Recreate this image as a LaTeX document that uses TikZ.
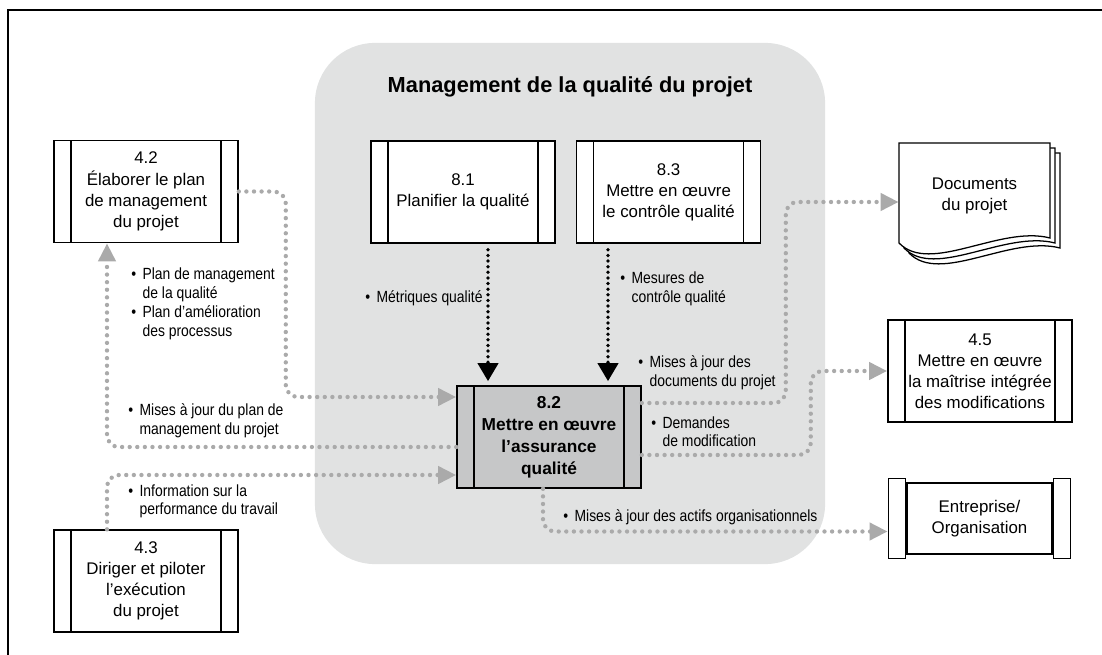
\documentclass[tikz,border=0pt]{standalone}
\usepackage{fontspec}
\setmainfont{Liberation Sans}
\newfontfamily\condfont[FakeStretch=0.86]{Liberation Sans}
\usetikzlibrary{arrows.meta, positioning, calc}
\definecolor{areagray}{RGB}{225,226,226}
\definecolor{coregray}{RGB}{198,199,200}
\definecolor{flowgray}{RGB}{170,170,170}
\newcommand{\bul}{\makebox[0.7em][l]{\textbullet}}
\newcommand{\cont}{\hspace*{0.7em}}

\begin{document}
\begin{tikzpicture}[x=0.025cm, y=-0.025cm,
    procbox/.style={rectangle, draw, line width=1.1pt, fill=white, minimum width=4.6cm, minimum height=2.55cm, inner sep=0pt, align=center, font=\fontsize{12}{15}\selectfont,
      path picture={\draw[line width=1.1pt] ([xshift=0.425cm]path picture bounding box.north west) -- ([xshift=0.425cm]path picture bounding box.south west)
        ([xshift=-0.425cm]path picture bounding box.north east) -- ([xshift=-0.425cm]path picture bounding box.south east);}},
    corebox/.style={procbox, fill=coregray, font=\bfseries\fontsize{12.3}{15.6}\selectfont},
    entbox/.style={rectangle, draw, line width=1.1pt, fill=white, minimum width=3.625cm, minimum height=1.775cm, inner sep=0pt, align=center, font=\fontsize{12}{15}\selectfont},
    endbar/.style={rectangle, draw, line width=1.1pt, fill=white, minimum width=0.425cm, minimum height=2cm, inner sep=0pt},
    area/.style={rectangle, fill=areagray, rounded corners=1.5cm, minimum width=12.75cm, minimum height=13.025cm},
    title/.style={font=\bfseries\fontsize{15.5}{18}\selectfont, inner sep=0pt},
    lbl/.style={anchor=north west, align=left, inner sep=0pt, font=\condfont\fontsize{11.5}{13.5}\selectfont},
    flow/.style={draw=flowgray, line width=3.1pt, line cap=round, dash pattern=on 0pt off 5.4pt, rounded corners=0.3cm, -{Triangle[length=0.45cm, width=0.42cm]}},
    pull/.style={draw=black, line width=2.7pt, line cap=round, dash pattern=on 0pt off 4pt, -{Triangle[length=0.45cm, width=0.5cm]}, shorten <=0.15cm, shorten >=0.1cm}]

    \useasboundingbox (0,0) rectangle (1102,655);
    \clip (0,0) rectangle (1102,655);

    % Process group
    \node [area] (qmgmt) at (570,303.5) {};
    \node [title, below=0.85cm of qmgmt.north] (qtitle) {Management de la qualité du projet};
    \draw [line width=1.6pt] (8,665) -- (8,10) -- (1110,10);

    % Processes
    \node [procbox] (pm) at (146,191.5) {4.2\\Élaborer le plan\\de management\\du projet};
    \node [procbox, below=7.15cm of pm] (exec) {4.3\\Diriger et piloter\\l’exécution\\du projet};
    \node [procbox] (plan) at (463,192) {8.1\\Planifier la qualité};
    \node [procbox, right=0.5cm of plan] (ctrl) {8.3\\Mettre en œuvre\\le contrôle qualité};
    \node [corebox] (qa) at (549,437) {8.2\\Mettre en œuvre\\l’assurance\\qualité};
    \node [procbox] (chg) at (980,371) {4.5\\Mettre en œuvre\\la maîtrise intégrée\\des modifications};

    % Enterprise
    \node [entbox] (ent) at (979.5,518.5) {Entreprise/\\Organisation};
    \node [endbar, anchor=east] (entL) at (ent.west) {};
    \node [endbar, anchor=west] (entR) at (ent.east) {};

    % Project documents
    \foreach \d in {10,5,0} {
      \draw [line width=0.9pt, fill=white, shift={(\d,\d)}] (899,143) -- (1050,143) -- (1050,238)
        .. controls (1000,225) and (930,275) .. (899,243) -- cycle;
    }
    \node [align=center, inner sep=0pt, minimum width=3.775cm, font=\fontsize{12}{15}\selectfont] (docs) at (974.5,196) {Documents\\du projet};

    % Flows
    \draw [flow] (pm.east) -- ++(47,0) |- ($(qa.west)+(0,-40)$);
    \draw [flow] ($(qa.west)+(0,10)$) -| ($(pm.south)+(-39,0)$);
    \draw [flow] ($(exec.north)+(-39,0)$) |- ($(qa.west)+(0,38)$);
    \draw [flow] ($(qa.east)+(0,-34)$) -- ++(144,0) |- ($(docs.west)+(0,6)$);
    \draw [flow] ($(qa.east)+(0,18)$) -- ++(169,0) |- (chg.west);
    \draw [flow] ($(qa.south)+(-6,0)$) |- ($(entL.west)+(0,13)$);

    \coordinate (in1) at ($(qa.north)+(-61,0)$);
    \coordinate (in2) at ($(qa.north)+(59,0)$);
    \draw [pull] (in1 |- plan.south) -- (in1);
    \draw [pull] (in2 |- ctrl.south) -- (in2);

    % Labels
    \node [lbl] (lplan) at (131,268) {\bul Plan de management\\\cont de la qualité\\\bul Plan d’amélioration\\\cont des processus};
    \node [lbl] (lupd) at (128,403) {\bul Mises à jour du plan de\\\cont management du projet};
    \node [lbl] (linfo) at (128,484) {\bul Information sur la\\\cont performance du travail};
    \node [lbl] (lmetr) at (365,290) {\bul Métriques qualité};
    \node [lbl] (lmeas) at (620,272) {\bul Mesures de\\\cont contrôle qualité};
    \node [lbl] (ldocs) at (638,355) {\bul Mises à jour des\\\cont documents du projet};
    \node [lbl] (lchg) at (651,416) {\bul Demandes\\\cont de modification};
    \node [lbl] (lasset) at (563,509) {\bul Mises à jour des actifs organisationnels};

\end{tikzpicture}
\end{document}
